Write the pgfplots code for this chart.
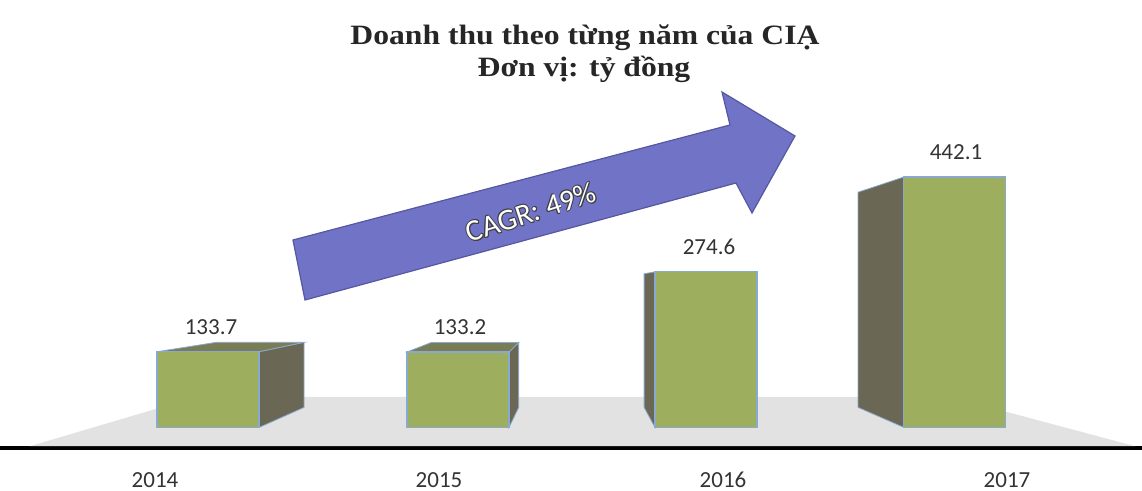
\documentclass[border=0pt]{standalone}
\usepackage{pgfplots}
\pgfplotsset{compat=1.18}
\usepackage{fontspec}
\setmainfont{Carlito}
\newfontfamily\titlefont{Liberation Serif}
\definecolor{frontc}{HTML}{9DAF5E}
\definecolor{sidec}{HTML}{6A6754}
\definecolor{topc}{HTML}{7A7C55}
\definecolor{edgec}{HTML}{8AA9CF}
\definecolor{floorc}{HTML}{E2E2E2}
\definecolor{arrowc}{HTML}{7073C6}
\definecolor{arrowe}{HTML}{5558A0}
\begin{document}
\begin{tikzpicture}
\begin{axis}[
  at={(0,0)}, anchor=south west,
  width=571pt, height=224pt, scale only axis,
  xmin=0, xmax=1142, ymin=-36.2, ymax=754.5,
  axis x line*=bottom, axis y line=none,
  x axis line style={line width=1.6pt, -},
  xtick={155,439,723,1007},
  xticklabels={2014,2015,2016,2017},
  major tick length=0pt,
  xticklabel style={anchor=center, inner sep=0pt, yshift=-16pt, font=\fontsize{11.5}{13}\selectfont, text=black!80},
  ytick=\empty,
  clip=false,
]
% floor
\addplot[fill=floorc, draw=none] coordinates {(30,-33) (196,53.8) (951,53.8) (1135,-33)} -- cycle;
% side and top faces
\addplot[fill=sidec, draw=edgec, line width=0.4pt] coordinates {(259,0) (304,35.5) (304,150.3) (259,133.7)} -- cycle;
\addplot[fill=topc, draw=edgec, line width=0.4pt] coordinates {(157,133.7) (259,133.7) (304,150.3) (216.4,150.3)} -- cycle;
\addplot[fill=sidec, draw=edgec, line width=0.4pt] coordinates {(509,0) (518.7,35.5) (518.7,149.9) (509,133.2)} -- cycle;
\addplot[fill=topc, draw=edgec, line width=0.4pt] coordinates {(407,133.2) (509,133.2) (518.7,149.9) (431.1,149.9)} -- cycle;
\addplot[fill=sidec, draw=edgec, line width=0.4pt] coordinates {(655,0) (644.1,35.5) (644.1,271.3) (655,274.6)} -- cycle;
\addplot[fill=sidec, draw=edgec, line width=0.4pt] coordinates {(904,0) (858,35.5) (858,415.2) (904,442.1)} -- cycle;
% front faces
\addplot[ybar, bar width=102, fill=frontc, draw=edgec, line width=0.6pt] coordinates {(208,133.7) (458,133.2) (706,274.6) (954.5,442.1)};
% value labels
\addplot[draw=none, mark=none, nodes near coords, point meta=explicit symbolic,
  nodes near coords style={anchor=center, yshift=12.5pt, font=\fontsize{11.5}{13}\selectfont, text=black!80}]
  coordinates {(211,133.7)[133.7] (460,133.2)[133.2] (709,274.6)[274.6] (956,442.1)[442.1]};
% arrow
\addplot[fill=arrowc, draw=arrowe, line width=0.6pt] coordinates {(305,225.0) (736,431.5) (752,378.6) (795,514.5) (722,592.1) (730,533.9) (293,330.9)} -- cycle;
\coordinate (cagr) at (axis cs:531,380);
\coordinate (t1) at (axis cs:585,676.8);
\coordinate (t2) at (axis cs:584,618.6);
\end{axis}
\foreach \dx/\dy in {0.5/0,-0.5/0,0/0.5,0/-0.5,0.35/0.35,-0.35/0.35,0.35/-0.35,-0.35/-0.35}{
  \node[rotate=18, text=black!75, xshift=\dx pt, yshift=\dy pt, font=\fontsize{15}{17}\selectfont] at (cagr) {CAGR: 49\%};
}
\node[rotate=18, text=white, font=\fontsize{15}{17}\selectfont] at (cagr) {CAGR: 49\%};
\node[anchor=base, text=black!85] at (t1) {\titlefont\bfseries\fontsize{14}{16}\selectfont\scalebox{1.13}[1]{Doanh thu theo từng năm của CIẠ}};
\node[anchor=base, text=black!85] at (t2) {\titlefont\bfseries\fontsize{14}{16}\selectfont\scalebox{1.13}[1]{Đơn vị: tỷ đồng}};
\pgfresetboundingbox
\useasboundingbox (0,-21.5pt) rectangle (571pt,224pt);
\end{tikzpicture}
\end{document}
